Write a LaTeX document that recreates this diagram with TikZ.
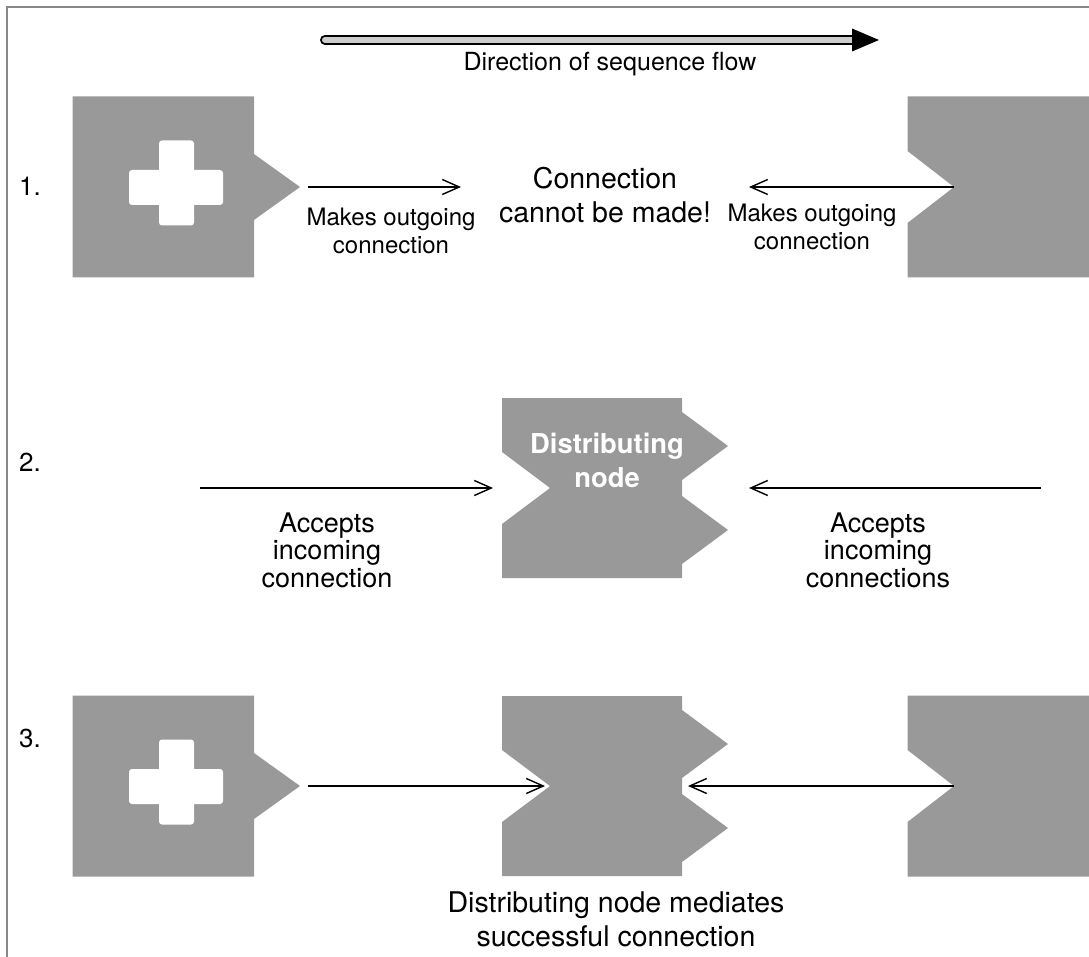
\documentclass[tikz,border=0pt]{standalone}
\usepackage{fontspec}
\setmainfont{TeX Gyre Heros}
\usepackage{tikz}
\usetikzlibrary{calc,arrows.meta}
\definecolor{blockgray}{RGB}{153,153,153}
\definecolor{framegray}{RGB}{136,136,136}
\definecolor{shaftgray}{RGB}{204,204,204}

\tikzset{
  block/.style={fill=blockgray},
  conn/.style={line width=1.4pt, -{Straight Barb[length=17pt,width=15pt,line width=1.4pt]}},
  lbl/.style={inner sep=0pt, align=center, font=\fontsize{24}{28}\selectfont},
  midlbl/.style={lbl, font=\fontsize{27}{27.5}\selectfont},
  biglbl/.style={lbl, font=\fontsize{28.5}{34}\selectfont}
}

\begin{document}
\begin{tikzpicture}[x=1pt,y=-1pt]
\useasboundingbox (0,0) rectangle (1089,957);
% Frame
\draw[framegray, line width=2pt] (1089,7) -- (7,7) -- (7,957);

% Direction of flow
\coordinate (flowstart) at (325,40);
\coordinate (flowend) at (879,40);
\draw[line width=2pt, double=shaftgray, double distance=6pt, line cap=round] (flowstart) -- ([xshift=-25pt]flowend);
\fill ([xshift=-27pt,yshift=11.5pt]flowend) -- (flowend) -- ([xshift=-27pt,yshift=-11.5pt]flowend) -- cycle;
\node[lbl, font=\fontsize{25}{30}\selectfont, anchor=base] (flowlabel) at (610,71) {Direction of sequence flow};

% Outgoing blocks with the plus
\foreach \r/\c in {1/187,3/786} {
    \fill[block] (72.5,\c-90.5) -- (254,\c-90.5) -- (254,\c-33) -- (300,\c) coordinate (plus\r)
        -- (254,\c+33) -- (254,\c+90.5) -- (72.5,\c+90.5) -- cycle;
    \fill[white, rounded corners=3pt] (159,\c-46.5) rectangle (194,\c+38.5);
    \fill[white, rounded corners=3pt] (129,\c-17) rectangle (223,\c+18);
}

% Outgoing blocks with the notch
\foreach \r/\c in {1/187,3/786} {
    \fill[block] (907.5,\c-90.5) -- (1089,\c-90.5) -- (1089,\c+90.5) -- (907.5,\c+90.5)
        -- (907.5,\c+36) -- (954,\c) coordinate (recv\r) -- (907.5,\c-36) -- cycle;
}

% Distributing blocks
\foreach \r/\c in {2/488,3/786} {
    \fill[block] (502,\c-90) -- (682,\c-90) -- (682,\c-76) -- (728,\c-42) -- (682,\c-8)
        -- (682,\c) coordinate (distR\r) -- (682,\c+8) -- (728,\c+42) -- (682,\c+76)
        -- (682,\c+90) -- (502,\c+90) -- (502,\c+36) -- (550,\c) coordinate (distL\r)
        -- (502,\c-36) -- cycle;
}

% Row numbers
\node[lbl, font=\fontsize{26}{30}\selectfont] (num1) at (30,186) {1.};
\node[lbl, font=\fontsize{26}{30}\selectfont] (num2) at (30,462) {2.};
\node[lbl, font=\fontsize{26}{30}\selectfont] (num3) at (30,738) {3.};

% Row 1
\coordinate (reach1) at (461,187);
\coordinate (reach1r) at (749,187);
\draw[conn, shorten <=8pt] (plus1) -- (reach1);
\draw[conn] (recv1) -- (reach1r);
\node[lbl] (out1) at (391,231) {Makes outgoing\\connection};
\node[lbl] (out1r) at (812,227) {Makes outgoing\\connection};
\node[biglbl] (nomatch) at (605,195) {Connection\\cannot be made!};

% Row 2
\coordinate (from2) at (200,488);
\coordinate (from2r) at (1041,488);
\draw[conn, shorten >=57pt] (from2) -- (distL2);
\draw[conn, shorten >=67pt] (from2r) -- (distR2);
\node[midlbl] (accept2) at (327,550) {Accepts\\incoming\\connection};
\node[midlbl] (accept2r) at (878,550) {Accepts\\incoming\\connections};
\node[lbl, white, font=\fontsize{27.4}{34}\selectfont\bfseries] (distname) at (607,460) {Distributing\\node};

% Row 3
\draw[conn, shorten <=8pt, shorten >=5pt] (plus3) -- (distL3);
\draw[conn, shorten >=6pt] (recv3) -- (distR3);
\node[biglbl] (mediates) at (616,919) {Distributing node mediates\\successful connection};
\end{tikzpicture}
\end{document}
